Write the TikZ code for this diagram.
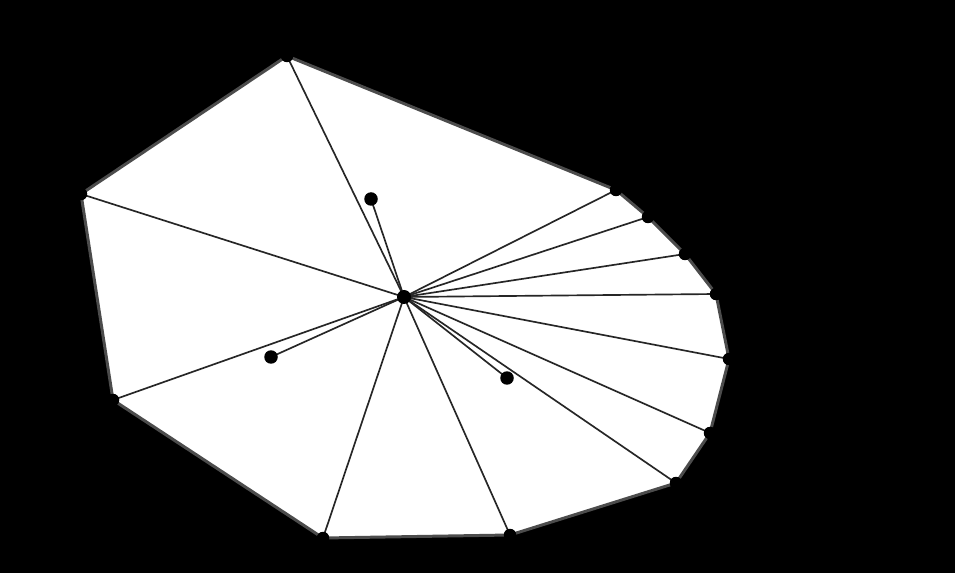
\documentclass[tikz,border=0pt]{standalone}
\usepackage{tikz}

\tikzset{
  hull/.style={fill=white,draw=black!70,line width=1.7pt,line join=round},
  spoke/.style={draw=black!85,line width=0.95pt},
  pt/.style={circle,fill=black,inner sep=0pt,minimum size=0.25cm},
  inpt/.style={circle,fill=black,inner sep=0pt,minimum size=0.27cm}
}

\begin{document}
\begin{tikzpicture}[x=0.02cm,y=-0.02cm]
  \fill[black] (0,0) rectangle (955,573);
  \useasboundingbox (0,0) rectangle (955,573);
  \coordinate (v1) at (287,56);
  \coordinate (v2) at (616,190);
  \coordinate (v3) at (648,217);
  \coordinate (v4) at (685,254);
  \coordinate (v5) at (716,294);
  \coordinate (v6) at (729,359);
  \coordinate (v7) at (710,433);
  \coordinate (v8) at (676,483);
  \coordinate (v9) at (510,535);
  \coordinate (v10) at (323,538);
  \coordinate (v11) at (113,400);
  \coordinate (v12) at (81,194);
  \coordinate (o) at (404,297);
  \coordinate (p1) at (371,199);
  \coordinate (p2) at (271,357);
  \coordinate (p3) at (507,378);
  \draw[hull] (v1) -- (v2) -- (v3) -- (v4) -- (v5) -- (v6) -- (v7) -- (v8)
    -- (v9) -- (v10) -- (v11) -- (v12) -- cycle;
  \foreach \v in {v1,v2,v3,v4,v5,v6,v7,v8,v9,v10,v11,v12,p1,p2,p3}
    \draw[spoke] (o) -- (\v);
  \foreach \v in {v1,v2,v3,v4,v5,v6,v7,v8,v9,v10,v11,v12}
    \node[pt] (d\v) at (\v) {};
  \foreach \v in {p1,p2,p3}
    \node[inpt] (d\v) at (\v) {};
  \node[pt,minimum size=0.28cm] (c) at (o) {};
\end{tikzpicture}
\end{document}
